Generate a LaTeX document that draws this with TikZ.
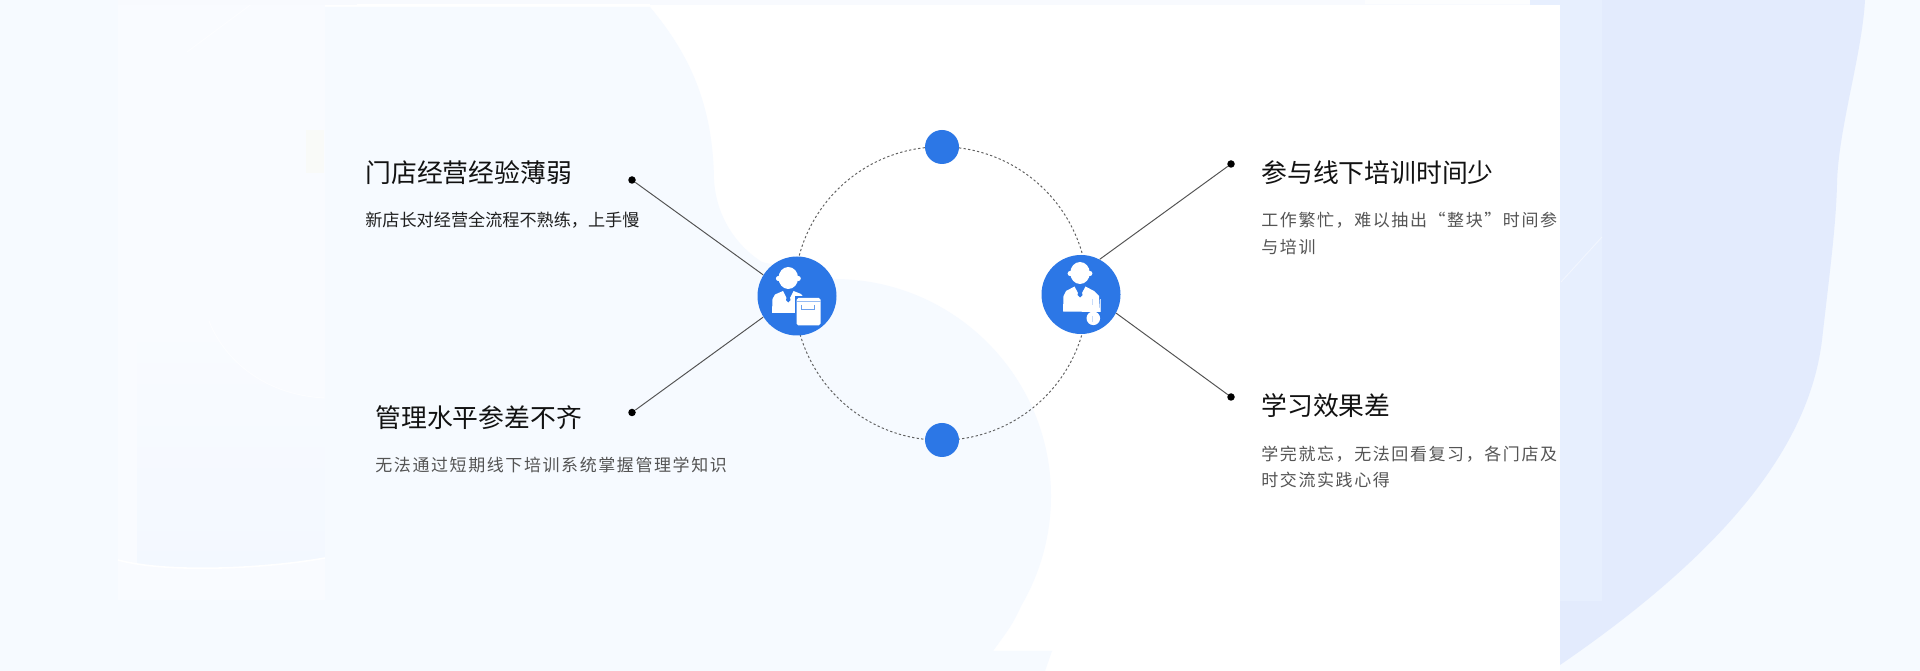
\documentclass[tikz,border=0pt]{standalone}
\usepackage{fontspec}
\setmainfont{Noto Sans CJK SC}
\newfontfamily\cjkwide[LetterSpace=9.4]{Noto Sans CJK SC}
\definecolor{bgpale}{HTML}{F6FAFF}
\definecolor{panelpale}{HTML}{F9FBFF}
\definecolor{panelblue}{HTML}{F3F8FF}
\definecolor{stripc}{HTML}{F8FAFE}
\definecolor{blobc}{HTML}{E3EBFD}
\definecolor{bandc}{HTML}{E7EFFE}
\definecolor{iconblue}{HTML}{2C77E6}
\definecolor{markblue}{HTML}{C9DCF9}
\definecolor{tanc}{HTML}{F9FAF8}
\tikzset{
  hubnode/.style={circle,fill=iconblue,minimum size=79*0.02cm,inner sep=0pt},
  smalldot/.style={circle,fill=iconblue,minimum size=34*0.02cm,inner sep=0pt},
  enddot/.style={circle,fill=black,minimum size=7.5*0.02cm,inner sep=0pt},
  ringnode/.style={circle,draw=black!62,line width=0.55pt,dash pattern=on 1.3pt off 1.3pt,minimum size=293.4*0.02cm,inner sep=0pt},
  link/.style={draw=black!68,line width=0.55pt},
  headtext/.style={anchor=west,inner sep=0pt,text=black!93,font=\fontsize{14.7pt}{18pt}\selectfont},
  subtext/.style={anchor=west,inner sep=0pt,align=left,text=black!67,font=\cjkwide\fontsize{9.67pt}{15.2pt}\selectfont},
  subdark/.style={anchor=west,inner sep=0pt,text=black!88,font=\fontsize{9.75pt}{15.2pt}\selectfont},
  iconwhite/.style={fill=white,draw=none},
  faintline/.style={line width=0.5pt}
}
\begin{document}
\begin{tikzpicture}[x=0.02cm,y=-0.02cm]
\useasboundingbox (0,0) rectangle (1920,671);
% ---- background
\fill[bgpale] (0,0) rectangle (1920,671);
\fill[panelpale] (118,0) rectangle (325,600);
\fill[tanc] (306,130) rectangle (324,173);
\shade[top color=panelpale,bottom color=panelblue]
  (137,321) -- (209,321) .. controls (222,355) and (260,395) .. (325,398) -- (325,558)
  .. controls (270,568) and (190,572) .. (137,564) -- cycle;
\draw[white,line width=0.9pt] (118,560) .. controls (170,574) and (270,568) .. (325,558);
\draw[white,faintline,opacity=0.7] (209,321) .. controls (222,355) and (260,395) .. (325,398);
\draw[white,faintline,opacity=0.6] (187,52) -- (257,0);
\fill[stripc] (118,0) rectangle (1530,5);
\fill[white!60!stripc] (1365,0) rectangle (1530,4);
% ---- right blob and band
\fill[blobc] (1530,0) -- (1865,0)
  .. controls (1862,55) and (1838,130) .. (1837,184)
  .. controls (1836,225) and (1830,270) .. (1822,340)
  .. controls (1810,440) and (1735,545) .. (1560,665)
  -- (1530,665) -- cycle;
\fill[bandc] (1530,0) rectangle (1602,601);
\draw[white!45!bandc,faintline] (1561,282) -- (1602,237);
% ---- central white panel with pale shape over it
\fill[white] (325,5) rectangle (1560,671);
\fill[white] (357,4) rectangle (650,7);
\fill[bgpale] (325,7) -- (650,7)
  .. controls (690,55) and (713,105) .. (714,180)
  .. controls (716,215) and (735,245) .. (762,262)
  -- (834,279)
  arc[start angle=-90,end angle=30,radius=217]
  .. controls (1012,625) .. (993,651)
  -- (1052,651) -- (1045,671) -- (325,671) -- cycle;
% ---- ring, hubs, dots
\node[ringnode] (ring) at (941,293.5) {};
\node[hubnode] (hubL) at (797,296) {};
\node[hubnode] (hubR) at (1081,294.5) {};
\node[smalldot] (dotT) at (942,147) {};
\node[smalldot] (dotB) at (942,440) {};
\node[enddot] (endA) at (632,180) {};
\node[enddot] (endB) at (632,412.5) {};
\node[enddot] (endC) at (1231,164) {};
\node[enddot] (endD) at (1231,397) {};
\draw[link] (endA) -- (hubL.148);
\draw[link] (endB) -- (hubL.212);
\draw[link] (endC) -- (hubR.62);
\draw[link] (endD) -- (hubR.-28);
% ---- left icon (person with box)
\begin{scope}[shift={(755,255)}]
  \fill[iconwhite] (33.3,23) ellipse (9.8 and 11);
  \fill[iconwhite] (23.5,23.5) circle (2.6) (43.2,23.5) circle (2.6);
  \fill[iconwhite] (17,58) -- (17.5,44) -- (20,39.5) -- (28,36) -- (31,42) -- (33,45) -- (35.5,42) -- (38.5,36) -- (46,39) -- (50,44) -- (50,58) -- cycle;
  \fill[iconblue] (31.5,38.5) -- (35,38.5) -- (34.5,41) -- (35.5,45) -- (33.3,47.5) -- (31,45) -- (32,41) -- cycle;
  \fill[iconblue] (39.5,41.5) rectangle (67,72);
  \fill[iconwhite,rounded corners=1pt] (41.5,43) rectangle (65.5,70.5);
  \fill[iconblue!50!white] (41.5,46.5) rectangle (65.5,47.3);
  \draw[iconblue!70!white,line width=0.5pt] (46.5,50) -- (46.5,54) -- (59,54) -- (59,50);
\end{scope}
% ---- right icon (person with thermometer)
\begin{scope}[shift={(1040,250)}]
  \fill[iconwhite] (40,23) ellipse (9.8 and 11);
  \fill[iconwhite] (30.2,23.5) circle (2.6) (49.8,23.5) circle (2.6);
  \fill[iconwhite] (23,61.5) -- (23.5,46) -- (26,41) -- (34.5,36.5) -- (38,43) -- (40,45.5) -- (42,43) -- (45.5,36.5) -- (54,41) -- (59,46) -- (60,62) -- cycle;
  \fill[iconblue] (38,38.5) -- (42,38.5) -- (41.5,41) -- (42.5,45) -- (40,47.5) -- (37.5,45) -- (38.5,41) -- cycle;
  \fill[iconwhite] (53.3,68.3) circle (6.8);
  \draw[markblue,line width=0.5pt] (52,49) -- (52,55) (52.5,72) -- (52.5,66) (60.5,49) -- (60.5,62);
\end{scope}
% ---- texts
\node[headtext] (t1) at (365,172.5) {门店经营经验薄弱};
\node[subdark] (s1) at (365,220) {新店长对经营全流程不熟练，上手慢};
\node[headtext] (t2) at (375,417.5) {管理水平参差不齐};
\node[subtext] (s2) at (375,465) {无法通过短期线下培训系统掌握管理学知识};
\node[headtext] (t3) at (1261,172.5) {参与线下培训时间少};
\node[subtext] (s3) at (1261,233.5) {工作繁忙，难以抽出“整块”时间参\\与培训};
\node[headtext] (t4) at (1261,406) {学习效果差};
\node[subtext] (s4) at (1261,467) {学完就忘，无法回看复习，各门店及\\时交流实践心得};
\end{tikzpicture}
\end{document}
